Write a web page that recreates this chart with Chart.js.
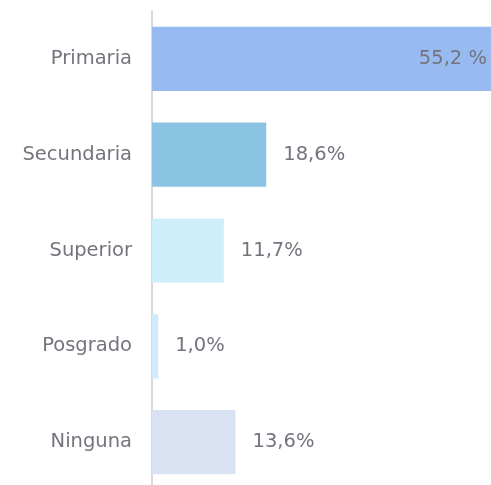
<!DOCTYPE html>
<html>
<head>
<meta charset="utf-8">
<script src="https://cdn.jsdelivr.net/npm/chart.js@4"></script>
<style>
  html, body { margin: 0; padding: 0; background: #fff; overflow: hidden; }
  #wrap { width: 491px; height: 490px; }
</style>
</head>
<body>
<div id="wrap"><canvas id="myChart" width="491" height="490"></canvas></div>
<script>
const categorias = ["Primaria", "Secundaria", "Superior", "Posgrado", "Ninguna"];
const porcentajes = [55.2, 18.6, 11.7, 1.0, 13.6];
const etiquetas = ["55,2 %", "18,6%", "11,7%", "1,0%", "13,6%"];
const colores = ["#97bbf0", "#8bc4e2", "#cfeefc", "#cfeafa", "#d9e2f3"];

const textoGris = "#74747e";
const fuente = "'DejaVu Sans', sans-serif";
const tamano = 19.5;

// etiquetas de valor al final de cada barra
const valueLabels = {
  id: "valueLabels",
  afterDatasetsDraw(chart) {
    const ctx = chart.ctx;
    const meta = chart.getDatasetMeta(0);
    ctx.save();
    ctx.font = tamano + "px " + fuente;
    ctx.fillStyle = textoGris;
    ctx.textBaseline = "middle";
    meta.data.forEach((bar, i) => {
      if (i === 0) {
        ctx.textAlign = "right";
        ctx.fillText(etiquetas[i], bar.x - 4, bar.y);
      } else {
        ctx.textAlign = "left";
        ctx.fillText(etiquetas[i], bar.x + 17, bar.y);
      }
    });
    ctx.restore();
  },
};

const ctx = document.getElementById("myChart").getContext("2d");
const myChart = new Chart(ctx, {
  type: "bar",
  data: {
    labels: categorias,
    datasets: [
      {
        data: porcentajes,
        backgroundColor: colores,
        borderWidth: 0,
        barPercentage: 0.67,
        categoryPercentage: 1.0,
      },
    ],
  },
  options: {
    indexAxis: "y",
    responsive: false,
    animation: false,
    layout: { padding: { top: 11, right: 0, bottom: 0, left: 0 } },
    plugins: {
      legend: { display: false },
      tooltip: { enabled: false },
    },
    scales: {
      x: {
        display: false,
        min: 0,
        max: 55.2,
      },
      y: {
        grid: { display: false, drawTicks: false },
        border: { display: true, color: "#d9d9d9", width: 2 },
        ticks: {
          color: textoGris,
          font: { family: fuente, size: tamano },
          padding: 20,
        },
        afterFit: (scale) => {
          scale.width = 152;
          scale.paddingTop = 0;
          scale.paddingBottom = 0;
        },
      },
    },
  },
  plugins: [valueLabels],
});
</script>
</body>
</html>
